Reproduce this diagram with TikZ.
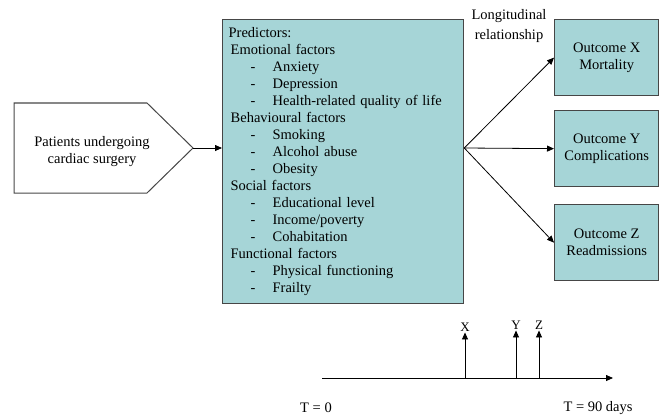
\documentclass[tikz,border=0pt]{standalone}
\usepackage{fontspec}
\setmainfont{Liberation Serif}
\usepackage{xcolor}
\usetikzlibrary{positioning,arrows.meta}

\definecolor{boxteal}{RGB}{166,213,215}
\definecolor{boxline}{RGB}{70,70,70}
\newcommand{\itm}[1]{\hspace*{22pt}\makebox[22pt][l]{-}#1}
\newcommand{\hd}[1]{\hspace*{2pt}#1}

\begin{document}
\begin{tikzpicture}[x=1pt, y=-1pt,
    every node/.style={font=\fontsize{14.5}{17}\selectfont},
    tealbox/.style={draw=boxline, line width=1.3pt, fill=boxteal, rectangle},
    arr/.style={-{Triangle[length=7pt,width=6pt]}, line width=0.8pt},
    ticklbl/.style={font=\fontsize{13}{15}\selectfont, inner sep=1pt}]
    \useasboundingbox (0,0) rectangle (660,417);

    % Patients
    \draw[draw=boxline, line width=1pt] (14,103) -- (147,103) -- (193,148) coordinate (srctip)
        -- (147,193) -- (14,193) -- cycle;
    \node[align=center] (src) at (92,152) {Patients undergoing\\cardiac surgery};

    % Predictors
    \node[tealbox, anchor=north west, minimum width=241, minimum height=284,
          inner xsep=5pt, text width=229, align=left] (pred) at (222,19) {%
        Predictors:\\
        \hd{Emotional factors}\\
        \itm{Anxiety}\\
        \itm{Depression}\\
        \itm{Health-related quality of life}\\
        \hd{Behavioural factors}\\
        \itm{Smoking}\\
        \itm{Alcohol abuse}\\
        \itm{Obesity}\\
        \hd{Social factors}\\
        \itm{Educational level}\\
        \itm{Income/poverty}\\
        \itm{Cohabitation}\\
        \hd{Functional factors}\\
        \itm{Physical functioning}\\
        \itm{Frailty}};

    % Outcomes
    \node[tealbox, anchor=north west, minimum width=104, minimum height=76, align=center]
        (outX) at (554,19) {Outcome X\\Mortality};
    \node[tealbox, anchor=north west, minimum width=104, minimum height=76, align=center]
        (outY) at (554,110) {Outcome Y\\Complications};
    \node[tealbox, anchor=north west, minimum width=104, minimum height=76, align=center]
        (outZ) at (554,204) {Outcome Z\\Readmissions};
    \node[align=center, font=\fontsize{14.5}{20}\selectfont] (longi) at (509,26)
        {Longitudinal\\relationship};

    % Connections
    \coordinate (fan) at (pred.east |- srctip);
    \draw[arr] (srctip) -- (srctip -| pred.west);
    \draw[arr] (fan) -- (outX.west);
    \draw[arr] (fan) -- (outY.west);
    \draw[arr] (fan) -- (outZ.west);

    % Timeline
    \coordinate (tstart) at (322,378);
    \coordinate (tend) at (613,378);
    \draw[arr] (tstart) -- (tend);
    \node[ticklbl] (lblX) at (465,327) {X};
    \node[ticklbl] (lblY) at (516,325) {Y};
    \node[ticklbl] (lblZ) at (539,325) {Z};
    \draw[arr] (lblX |- tstart) -- (lblX.south);
    \draw[arr] (lblY |- tstart) -- (lblY.south);
    \draw[arr] (lblZ |- tstart) -- (lblZ.south);
    \node (t0) at (316,408) {T = 0};
    \node (t90) at (598,408) {T = 90 days};
\end{tikzpicture}
\end{document}
